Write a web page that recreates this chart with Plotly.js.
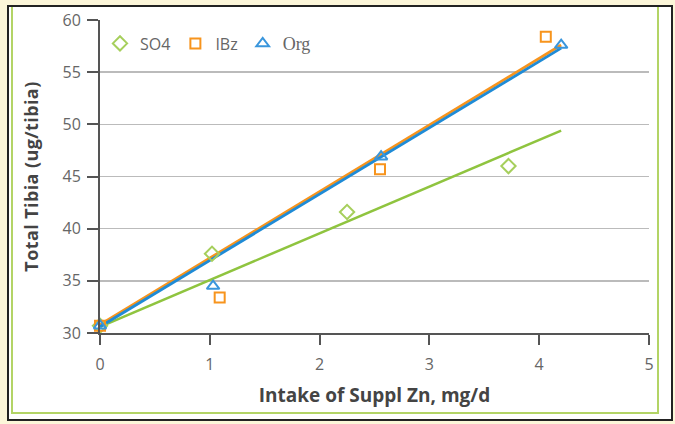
<!DOCTYPE html>
<html>
<head>
<meta charset="utf-8">
<script src="https://cdn.plot.ly/plotly-3.0.1.min.js"></script>
<style>
  html, body { margin: 0; padding: 0; background: #fcf6d9; }
  #wrap { position: relative; width: 675px; height: 424px; overflow: hidden; }
  #frame { position: absolute; left: 7px; top: 5px; width: 662px; height: 412px; border: 2px solid #222; background: #ffffff; }
  #green { position: absolute; left: 11px; top: 7px; width: 644px; height: 405px;
           border-left: 2px solid #b3d466; border-right: 2px solid #b3d466; border-bottom: 2px solid #b3d466; }
  #chart { position: absolute; left: 0; top: 0; width: 675px; height: 424px; }
</style>
</head>
<body>
<div id="wrap">
  <div id="frame"></div>
  <div id="green"></div>
  <div id="chart"></div>
</div>
<script>
// Observed data
const so4X = [0, 1.02, 2.25, 3.72];
const so4Y = [30.7, 37.6, 41.6, 46.0];
const ibzX = [0, 1.09, 2.55, 4.06];
const ibzY = [30.7, 33.4, 45.7, 58.4];
const orgX = [0, 1.03, 2.56, 4.2];
const orgY = [30.7, 34.5, 46.9, 57.6];

// Fitted trend line endpoints
const so4FitX = [0, 4.2];
const so4FitY = [30.6, 49.4];
const ibzFitX = [0, 4.2];
const ibzFitY = [30.8, 57.6];
const orgFitX = [0, 4.2];
const orgFitY = [30.6, 57.3];

const seriesNames = ['SO4', 'IBz', 'Org'];
const xTicks = [0, 1, 2, 3, 4, 5];
const yTicks = [30, 35, 40, 45, 50, 55, 60];

const green = '#8fc43f';
const orange = '#f7941d';
const blue = '#1f8bd6';

const traces = [
  {x: so4FitX, y: so4FitY, mode: 'lines', line: {color: green, width: 2.5}, showlegend: false, hoverinfo: 'skip'},
  {x: ibzFitX, y: ibzFitY, mode: 'lines', line: {color: orange, width: 2.8}, showlegend: false, hoverinfo: 'skip'},
  {x: orgFitX, y: orgFitY, mode: 'lines', line: {color: blue, width: 2.8}, showlegend: false, hoverinfo: 'skip'},
  {x: so4X, y: so4Y, mode: 'markers', name: seriesNames[0], cliponaxis: false,
   marker: {symbol: 'diamond-open', size: 11, color: '#a6cf5c', line: {width: 2, color: '#a6cf5c'}}},
  {x: ibzX, y: ibzY, mode: 'markers', name: seriesNames[1], cliponaxis: false,
   marker: {symbol: 'square-open', size: 10, color: orange, line: {width: 2, color: orange}}},
  {x: orgX, y: orgY, mode: 'markers', name: '<span style="font-family:Liberation Serif;font-size:18px">' + seriesNames[2] + '</span>', cliponaxis: false,
   marker: {symbol: 'triangle-up-open', size: 11, color: '#3a96dc', line: {width: 2, color: '#3a96dc'}}}
];

const layout = {
  width: 675, height: 424,
  margin: {l: 100, r: 26, t: 20, b: 91},
  paper_bgcolor: 'rgba(0,0,0,0)',
  plot_bgcolor: 'rgba(0,0,0,0)',
  font: {family: 'Open Sans, sans-serif', size: 16, color: '#666'},
  showlegend: true,
  legend: {orientation: 'h', x: 0.0, y: 0.925, xanchor: 'left', yanchor: 'middle',
           bgcolor: 'rgba(0,0,0,0)', font: {size: 16, color: '#666'}, itemwidth: 30, tracegroupgap: 0},
  xaxis: {
    range: [0, 5], tickvals: xTicks, ticktext: xTicks.map(String),
    showgrid: false, zeroline: false,
    showline: true, linecolor: '#555', linewidth: 2,
    ticks: 'outside', ticklen: 10, tickwidth: 2, tickcolor: '#555',
    ticklabelstandoff: 6,
    tickfont: {size: 16, color: '#666'},
    title: {text: '<b>Intake of Suppl Zn, mg/d</b>', font: {size: 19, color: '#444'}, standoff: 14}
  },
  yaxis: {
    range: [30, 60], tickvals: yTicks, ticktext: yTicks.map(String),
    showgrid: true, gridcolor: '#bbbbbb', gridwidth: 1.5, zeroline: false,
    showline: true, linecolor: '#555', linewidth: 2,
    ticks: 'outside', ticklen: 11, tickwidth: 2, tickcolor: '#555',
    ticklabelstandoff: 3,
    tickfont: {size: 16, color: '#666'},
    title: {text: '<b><span style="letter-spacing:0.4px">Total Tibia (ug/tibia)</span></b>', font: {size: 18, color: '#444'}, standoff: 19}
  }
};

Plotly.newPlot('chart', traces, layout, {displayModeBar: false, staticPlot: true});
</script>
</body>
</html>
